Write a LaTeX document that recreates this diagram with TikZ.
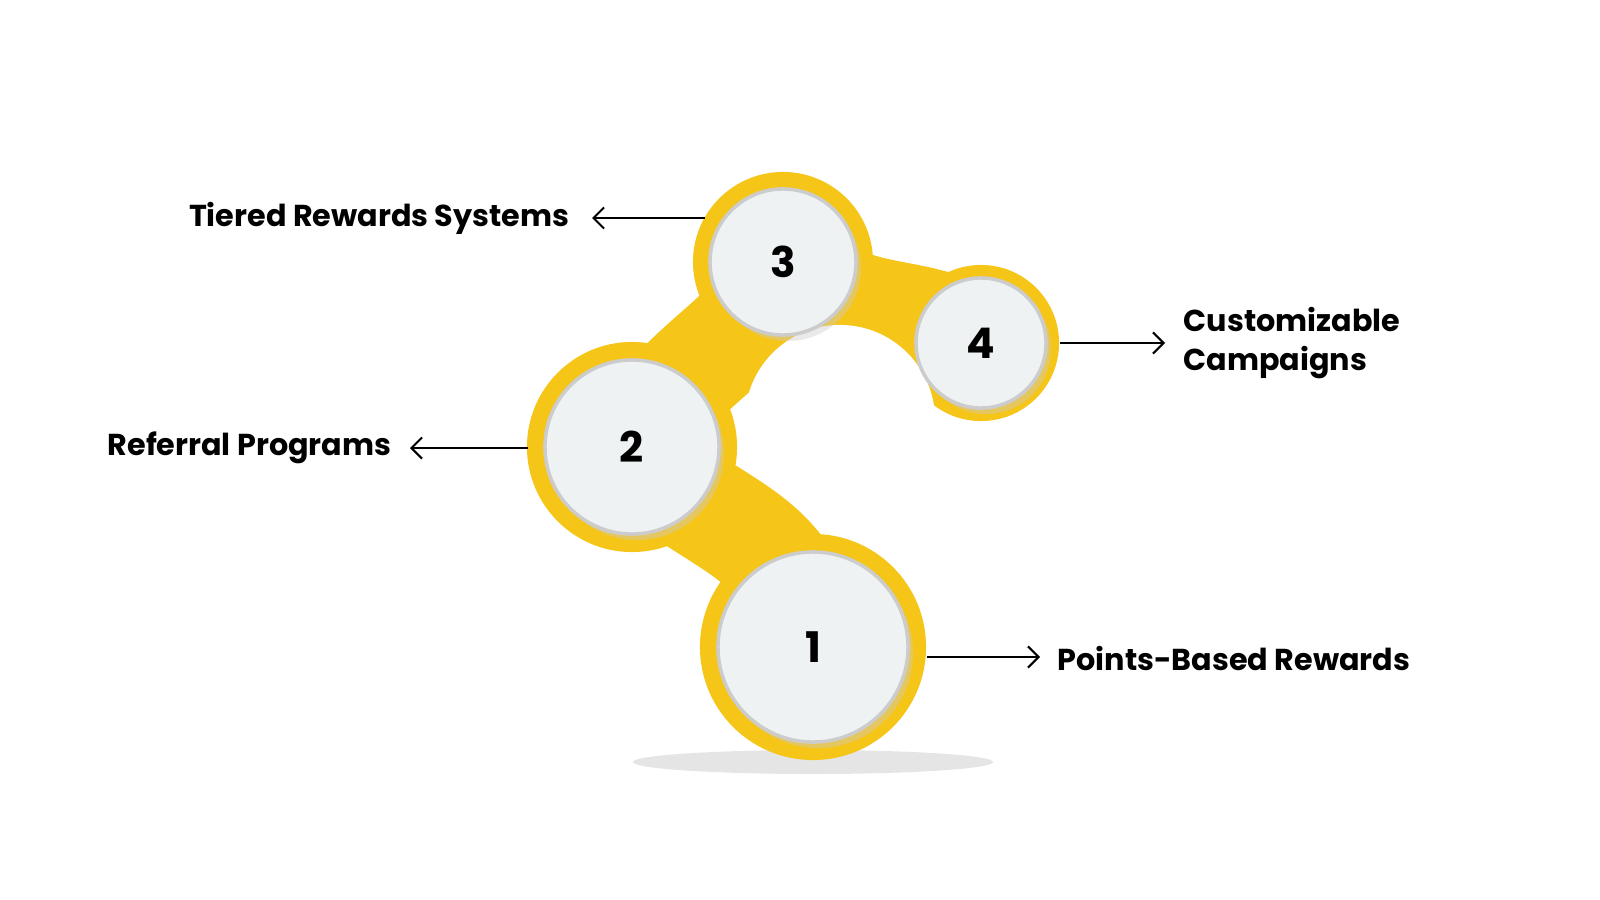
\documentclass[tikz,border=0pt]{standalone}
\usepackage{fontspec}
\setmainfont{Poppins}
\usetikzlibrary{arrows.meta}
\definecolor{yel}{HTML}{F5C518}
\definecolor{yelL}{HTML}{FBD935}
\definecolor{disc}{HTML}{EEF2F3}
\tikzset{
 blob/.style={fill=yel},
 neck/.style={draw=yel,line width=1.05cm,line cap=round},
 disc/.style={circle,fill=disc,draw=gray!40,line width=1pt,font=\fontsize{12}{14}\selectfont\bfseries,inner sep=0},
 lab/.style={font=\fontsize{8.6}{11}\selectfont\bfseries,align=left,inner sep=0},
 arr/.style={-{Straight Barb[length=3pt,width=6pt]},line width=0.6pt}
}
\begin{document}
\begin{tikzpicture}[x=0.01cm,y=-0.01cm]
\useasboundingbox (0,0) rectangle (1600,900);
\fill[gray!20] (813,762) ellipse (1.8cm and 0.12cm);
% yellow body
\draw[neck] (783,262) .. controls (760,340) and (690,350) .. (632,447);
\draw[neck] (783,262) .. controls (860,330) and (910,300) .. (981,343);
\draw[neck] (632,447) .. controls (700,530) and (790,520) .. (813,647);
\fill[blob] (783,262) circle (0.9cm);
\fill[blob] (981,343) circle (0.78cm);
\fill[blob] (632,447) circle (1.05cm);
\fill[blob] (813,647) circle (1.13cm);
\fill[white] (840,420) circle (0.95cm);
% shadows
\foreach \x/\y/\r in {783/262/0.73, 981/343/0.65, 632/447/0.87, 813/647/0.95}
  \fill[black!20,opacity=0.4] (\x+5,\y+6) circle (\r cm);
\node[disc,minimum size=1.46cm] (n3) at (783,262) {3};
\node[disc,minimum size=1.30cm] (n4) at (981,343) {4};
\node[disc,minimum size=1.74cm] (n2) at (632,447) {2};
\node[disc,minimum size=1.90cm] (n1) at (813,647) {1};
% labels
\node[lab,anchor=east] (t3) at (570,218) {Tiered Rewards Systems};
\node[lab,anchor=east] (t2) at (392,448) {Referral Programs};
\node[lab,anchor=west] (t4) at (1183,343) {Customizable\\Campaigns};
\node[lab,anchor=west] (t1) at (1057,658) {Points-Based Rewards};
\coordinate (a3) at (705,218); \coordinate (b3) at (592,218);
\coordinate (a2) at (528,448); \coordinate (b2) at (410,448);
\coordinate (a4) at (1060,343); \coordinate (b4) at (1165,343);
\coordinate (a1) at (927,657); \coordinate (b1) at (1040,657);
\draw[arr] (a3) -- (b3);
\draw[arr] (a2) -- (b2);
\draw[arr] (a4) -- (b4);
\draw[arr] (a1) -- (b1);
\end{tikzpicture}
\end{document}
